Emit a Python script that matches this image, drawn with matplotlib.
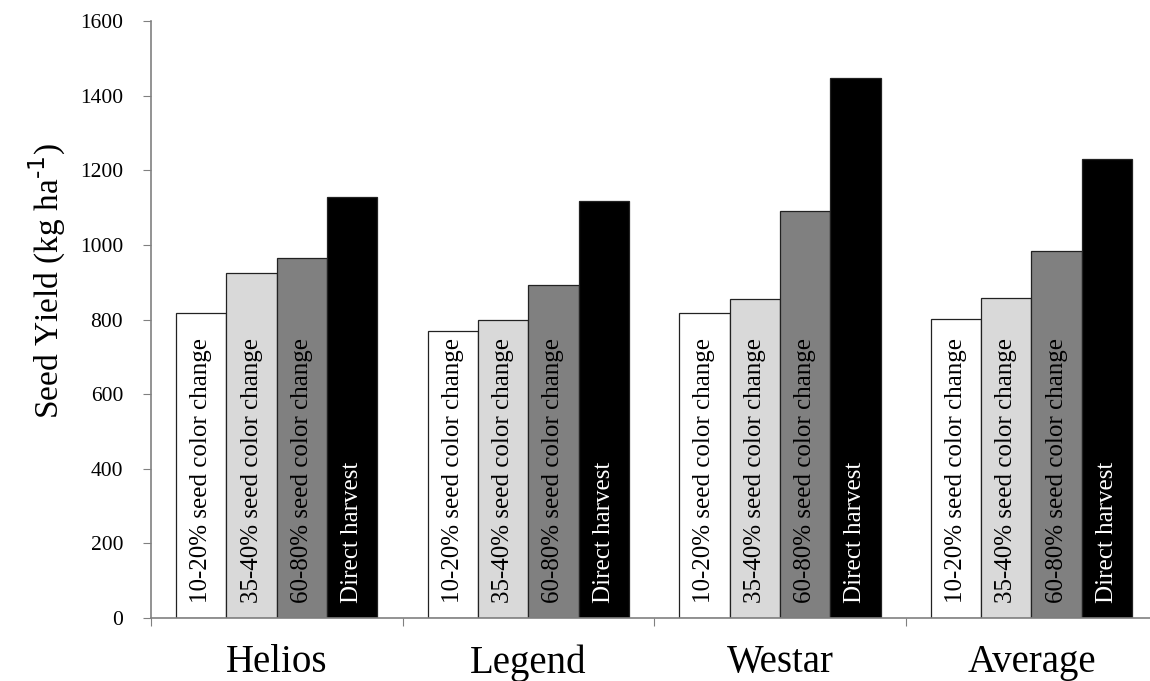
import numpy as np
import matplotlib.pyplot as plt

cultivars = ['Helios', 'Legend', 'Westar', 'Average']
treatments = ['10-20% seed color change', '35-40% seed color change',
              '60-80% seed color change', 'Direct harvest']
# seed yield, kg/ha, one list per treatment (in cultivar order)
yield_10_20 = [818, 768, 818, 802]
yield_35_40 = [926, 799, 854, 858]
yield_60_80 = [966, 893, 1092, 983]
yield_direct = [1128, 1119, 1447, 1230]
series = [yield_10_20, yield_35_40, yield_60_80, yield_direct]
bar_colors = ['white', '#d9d9d9', '#808080', 'black']
text_colors = ['black', 'black', 'black', 'white']

plt.rcParams['font.family'] = ['Liberation Serif', 'DejaVu Serif']

fig = plt.figure(figsize=(11.5, 6.81), dpi=100)
ax = fig.add_axes([0.1313, 0.0925, 0.875, 0.8766])

x = np.arange(len(cultivars))
w = 0.2
for i, vals in enumerate(series):
    pos = x - 0.3 + i * w
    ax.bar(pos, vals, width=w, color=bar_colors[i], edgecolor='#222222',
           linewidth=0.9, zorder=2)
    for p in pos:
        ax.text(p, 40, treatments[i], rotation=90, ha='center', va='bottom',
                fontsize=18, color=text_colors[i], zorder=3)

ax.set_xlim(-0.5, len(cultivars) - 0.5)
ax.set_ylim(0, 1600)
ax.set_yticks(np.arange(0, 1601, 200))
ax.tick_params(axis='y', direction='out', length=6, color='#808080',
               labelsize=15.5, pad=14)

# category names between boundary ticks
ax.set_xticks(np.arange(-0.5, len(cultivars) - 0.4, 1))
ax.set_xticklabels([])
ax.tick_params(axis='x', direction='out', length=6, color='#808080')
for xi, name in zip(x, cultivars):
    ax.text(xi, -0.075, name, transform=ax.get_xaxis_transform(),
            ha='center', va='center', fontsize=28)

for s in ['top', 'right']:
    ax.spines[s].set_visible(False)
for s in ['left', 'bottom']:
    ax.spines[s].set_color('#808080')
    ax.spines[s].set_linewidth(1.2)

ax.set_ylabel('Seed Yield (kg ha$^{\\text{-1}}$)', fontsize=24)
ax.yaxis.set_label_coords(-0.082, 0.564)

fig.savefig('out.png', dpi=100)
